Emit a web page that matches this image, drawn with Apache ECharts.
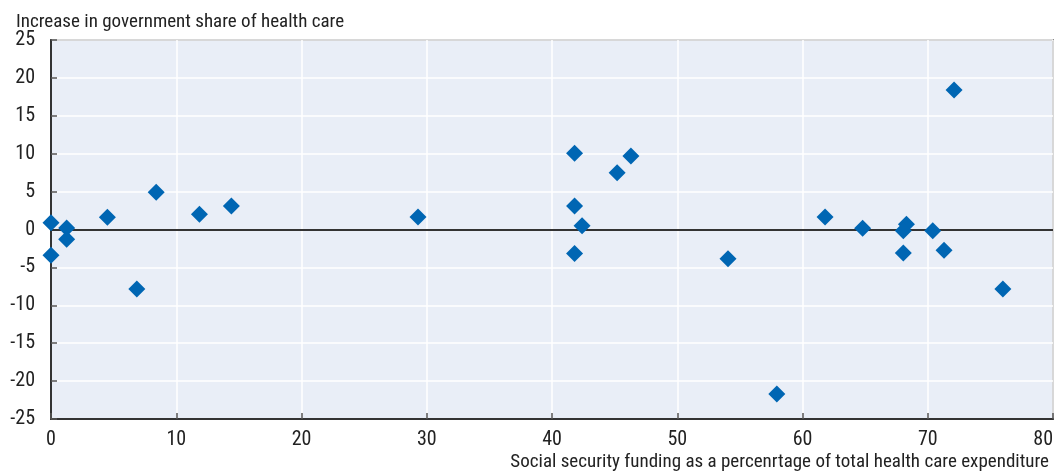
<!DOCTYPE html>
<html>
<head>
<meta charset="utf-8">
<style>
  html, body { margin: 0; padding: 0; background: #ffffff; }
  #chart { width: 1056px; height: 476px; }
</style>
<script src="https://cdn.jsdelivr.net/npm/echarts@6/dist/echarts.min.js"></script>
</head>
<body>
<div id="chart"></div>
<script>
// Social security funding share (x) vs. change in government share of health care (y)
const fundingShare = [
  0, 0, 1.25, 1.25, 4.5, 8.4, 6.85, 11.85, 14.4, 29.3,
  41.8, 41.8, 42.4, 41.8, 45.2, 46.3, 57.95, 54.05,
  61.8, 64.8, 68.3, 68.05, 68.05, 70.4, 71.3, 72.1, 76.0
];
const govShareIncrease = [
  0.9, -3.4, 0.2, -1.3, 1.6, 4.9, -7.85, 2.0, 3.1, 1.65,
  10.05, 3.1, 0.5, -3.15, 7.5, 9.7, -21.7, -3.85,
  1.65, 0.15, 0.7, -0.15, -3.1, -0.15, -2.75, 18.4, -7.85
];
const xTicks = [0, 10, 20, 30, 40, 50, 60, 70, 80];
const yTicks = [-25, -20, -15, -10, -5, 0, 5, 10, 15, 20, 25];

const yAxisTitle = 'Increase in government share of health care';
const xAxisTitle = 'Social security funding as a percenrtage of total health care expenditure';

const points = fundingShare.map((x, i) => [x, govShareIncrease[i]]);

const fontFamily = '"Liberation Sans Narrow", "Roboto Condensed", Roboto, sans-serif';

const chart = echarts.init(document.getElementById('chart'), null, { renderer: 'canvas' });
chart.setOption({
  animation: false,
  backgroundColor: '#ffffff',
  textStyle: { fontFamily: fontFamily },
  title: [
    {
      text: yAxisTitle, left: 11, top: 8,
      textStyle: { fontFamily: fontFamily, fontSize: 19, fontWeight: 'normal', color: '#222' }
    },
    {
      text: xAxisTitle, right: 2, bottom: -1,
      textStyle: { fontFamily: fontFamily, fontSize: 19, fontWeight: 'normal', color: '#222' }
    }
  ],
  grid: {
    left: 51, right: 3, top: 40, bottom: 57,
    outerBoundsMode: 'none',
    containLabel: false,
    show: true, backgroundColor: '#e9eef7',
    borderColor: '#333333', borderWidth: 1.5
  },
  xAxis: {
    type: 'value',
    min: xTicks[0], max: xTicks[xTicks.length - 1], interval: 10,
    axisLine: { show: true, onZero: false, lineStyle: { color: '#333333', width: 2 } },
    axisTick: { show: true, inside: true, length: 6, lineStyle: { color: '#555555', width: 1.5 } },
    axisLabel: {
      fontSize: 20, color: '#222', margin: 11, fontFamily: fontFamily,
      alignMaxLabel: 'right'
    },
    splitLine: { show: true, lineStyle: { color: '#ffffff', width: 1.5 } }
  },
  yAxis: {
    type: 'value',
    min: yTicks[0], max: yTicks[yTicks.length - 1], interval: 5,
    axisLine: { show: true, onZero: false, lineStyle: { color: '#333333', width: 2 } },
    axisTick: { show: true, inside: true, length: 6, lineStyle: { color: '#555555', width: 1.5 } },
    axisLabel: { fontSize: 20, color: '#222', margin: 16, fontFamily: fontFamily },
    splitLine: { show: true, lineStyle: { color: '#ffffff', width: 1.5 } }
  },
  series: [
    {
      type: 'scatter',
      data: points,
      symbol: 'diamond',
      symbolSize: [17, 17],
      itemStyle: { color: '#0066b3', opacity: 1 },
      z: 5,
      markLine: {
        silent: true,
        symbol: 'none',
        label: { show: false },
        lineStyle: { color: '#333333', width: 2, type: 'solid' },
        data: [{ yAxis: 0 }],
        z: 3
      }
    }
  ]
});
</script>
</body>
</html>
